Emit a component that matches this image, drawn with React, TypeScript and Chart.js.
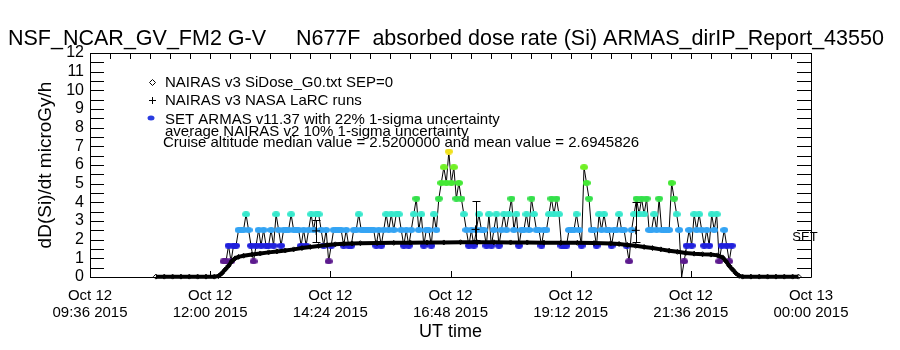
import React, { useEffect, useRef } from "react";
import { Chart, registerables } from "chart.js";

Chart.register(...registerables);

const FONT = '"Liberation Sans", Arial, sans-serif';

const titleText = "NSF_NCAR_GV_FM2 G-V     N677F  absorbed dose rate (Si) ARMAS_dirIP_Report_43550";
const yAxisTitle = "dD(Si)/dt microGy/h";
const xAxisTitle = "UT time";
const legendLabels = [
  "NAIRAS v3 SiDose_G0.txt SEP=0",
  "NAIRAS v3 NASA LaRC runs",
  "SET ARMAS v11.37 with 22% 1-sigma uncertainty",
];
const noteLines = [
  "average NAIRAS v2 10% 1-sigma uncertainty",
  "Cruise altitude median value = 2.5200000 and mean value = 2.6945826",
];
const sideLabel = "SET";
const sideLabelValue = 2.1;

// x axis in minutes since Oct 12 00:00 UT
const xMinMinutes = 576;
const xMaxMinutes = 1440;
const xTickMinutes = [576, 720, 864, 1008, 1152, 1296, 1440];
const xTickLabels = [
  ["Oct 12", "09:36 2015"],
  ["Oct 12", "12:00 2015"],
  ["Oct 12", "14:24 2015"],
  ["Oct 12", "16:48 2015"],
  ["Oct 12", "19:12 2015"],
  ["Oct 12", "21:36 2015"],
  ["Oct 13", "00:00 2015"],
];
const yMin = 0;
const yMax = 12;

// NAIRAS v3 SiDose_G0 model (microGy/h)
const nairasTimes = [
  655, 665, 675, 685, 695, 705, 715, 725, 730, 734, 738, 742, 746, 750, 754,
  760, 770, 780, 790, 800, 810, 820, 830, 840, 850, 860, 870, 880, 890, 900,
  920, 940, 960, 980, 1000, 1020, 1040, 1060, 1080, 1100, 1120, 1140, 1160, 1180, 1200,
  1210, 1220, 1230, 1240, 1250, 1260, 1270, 1280, 1290, 1300, 1310, 1320,
  1328, 1334, 1338, 1342, 1346, 1350, 1354, 1358,
  1368, 1378, 1388, 1398, 1408, 1418, 1425,
];
const nairasValues = [
  0.02, 0.02, 0.02, 0.02, 0.02, 0.02, 0.02, 0.02, 0.05, 0.2, 0.4, 0.6, 0.85, 1.0, 1.08,
  1.14, 1.2, 1.26, 1.32, 1.37, 1.42, 1.48, 1.55, 1.61, 1.66, 1.71, 1.75, 1.78, 1.8, 1.81,
  1.82, 1.83, 1.84, 1.85, 1.85, 1.86, 1.86, 1.86, 1.85, 1.85, 1.84, 1.83, 1.83, 1.82, 1.8,
  1.77, 1.72, 1.67, 1.61, 1.55, 1.48, 1.41, 1.35, 1.29, 1.25, 1.22, 1.2,
  1.16, 1.05, 0.85, 0.6, 0.4, 0.2, 0.06, 0.02,
  0.02, 0.02, 0.02, 0.02, 0.02, 0.02, 0.02,
];

// NAIRAS v3 NASA LaRC runs with uncertainty bars
const larcTimes = [847, 1038, 1230];
const larcValues = [2.47, 2.55, 2.5];
const larcLow = [1.89, 1.97, 1.9];
const larcHigh = [3.04, 4.05, 4.02];

// SET ARMAS measurements: dose counts per 3-minute record, quantum 0.84 microGy/h
const armasStartMinute = 736;
const armasStepMinutes = 3;
const armasDoseQuantum = 0.84;
const armasCounts = [
  1, 1, 2, 1, 2, 2, 3, 3, 3, 4,
  3, 2, 1, 2, 3, 2, 3, 2, 2, 3,
  2, 4, 3, 2, 3, 3, 3, 4, 3, 3,
  3, 2, 3, 2, 3, 4, 3, 4, 4, 3,
  2, 3, 1, 2, 3, 3, 3, 3, 2, 3,
  2, 2, 3, 3, 4, 3, 3, 3, 3, 3,
  3, 2, 3, 2, 3, 4, 3, 4, 3, 4,
  4, 3, 2, 3, 2, 3, 4, 5, 3, 4,
  2, 3, 3, 2, 4, 3, 5, 6, 7, 6,
  8, 6, 7, 5, 6, 5, 4, 3, 2, 3,
  2, 3, 4, 3, 3, 2, 4, 2, 3, 4,
  2, 3, 4, 3, 4, 5, 3, 4, 2, 3,
  3, 4, 3, 5, 4, 3, 3, 2, 3, 3,
  4, 5, 4, 5, 4, 2, 2, 2, 3, 3,
  3, 4, 3, 2, 7, 6, 5, 3, 3, 2,
  4, 3, 4, 3, 3, 2, 3, 3, 4, 3,
  3, 2, 1, 3, 4, 5, 4, 5, 4, 5,
  3, 3, 4, 3, 5, 3, 3, 3, 3, 6,
  5, 4, 3, 0, 1, 2, 3, 2, 4, 3,
  4, 3, 2, 3, 2, 4, 3, 4, 1, 2,
  3, 2, 1, 2,
];
const armasCountColors = [
  "rgba(0,0,0,0)",
  "#5c1a8e",
  "#2020dc",
  "#34a4f4",
  "#36e8cc",
  "#34e04a",
  "#44e834",
  "#70f024",
  "#f0e01c",
];

function makeDot(color: string, w: number, h: number): HTMLCanvasElement {
  const c = document.createElement("canvas");
  c.width = w;
  c.height = h;
  const g = c.getContext("2d")!;
  g.fillStyle = color;
  g.beginPath();
  g.ellipse(w / 2, h / 2, w / 2, h / 2, 0, 0, Math.PI * 2);
  g.fill();
  return c;
}

const idlPlugin = {
  id: "idlDecor",
  beforeDatasetsDraw(chart: any) {
    const { ctx, chartArea, scales } = chart;
    const { left, right, top, bottom } = chartArea;
    const x = scales.x;
    const y = scales.y;
    ctx.save();
    ctx.strokeStyle = "#000";
    ctx.lineWidth = 1;
    ctx.beginPath();
    ctx.rect(Math.round(left) + 0.5, Math.round(top) + 0.5, Math.round(right - left), Math.round(bottom - top));
    for (let v = yMin; v <= yMax; v += 0.5) {
      const py = Math.round(y.getPixelForValue(v)) + 0.5;
      ctx.moveTo(left, py);
      ctx.lineTo(left + 14, py);
      ctx.moveTo(right, py);
      ctx.lineTo(right - 14, py);
    }
    for (let m = xMinMinutes; m <= xMaxMinutes; m += 24) {
      const px = Math.round(x.getPixelForValue(m)) + 0.5;
      ctx.moveTo(px, top);
      ctx.lineTo(px, top + 6);
    }
    for (const m of xTickMinutes) {
      const px = Math.round(x.getPixelForValue(m)) + 0.5;
      ctx.moveTo(px, bottom);
      ctx.lineTo(px, bottom - 6);
    }
    ctx.stroke();
    ctx.restore();
  },
  afterDatasetsDraw(chart: any) {
    const { ctx, scales } = chart;
    const x = scales.x;
    const y = scales.y;
    ctx.save();
    ctx.strokeStyle = "#000";
    ctx.lineWidth = 1;
    ctx.beginPath();
    for (let i = 0; i < larcTimes.length; i++) {
      const px = Math.round(x.getPixelForValue(larcTimes[i])) + 0.5;
      const yl = Math.round(y.getPixelForValue(larcLow[i])) + 0.5;
      const yh = Math.round(y.getPixelForValue(larcHigh[i])) + 0.5;
      ctx.moveTo(px, yl);
      ctx.lineTo(px, yh);
      ctx.moveTo(px - 4, yl);
      ctx.lineTo(px + 4, yl);
      ctx.moveTo(px - 4, yh);
      ctx.lineTo(px + 4, yh);
    }
    ctx.stroke();
    ctx.restore();
  },
  afterDraw(chart: any) {
    const { ctx, chartArea, scales } = chart;
    const y = scales.y;
    ctx.save();
    ctx.fillStyle = "#000";
    ctx.textBaseline = "alphabetic";
    ctx.textAlign = "left";
    ctx.font = `21.5px ${FONT}`;
    ctx.fillText(titleText, 8, 45);

    ctx.font = `15px ${FONT}`;
    const baselines = [87, 105, 124, 136, 147];
    ctx.fillText(legendLabels[0], 165, baselines[0]);
    ctx.fillText(legendLabels[1], 165, baselines[1]);
    ctx.fillText(legendLabels[2], 165, baselines[2]);
    ctx.fillText(noteLines[0], 165, baselines[3]);
    ctx.fillText(noteLines[1], 163, baselines[4]);

    ctx.strokeStyle = "#000";
    ctx.lineWidth = 1;
    ctx.beginPath();
    const dx = 152.5, dy = 82.5;
    ctx.moveTo(dx, dy - 3);
    ctx.lineTo(dx + 3, dy);
    ctx.lineTo(dx, dy + 3);
    ctx.lineTo(dx - 3, dy);
    ctx.closePath();
    ctx.moveTo(152.5, 97);
    ctx.lineTo(152.5, 104);
    ctx.moveTo(149, 100.5);
    ctx.lineTo(156, 100.5);
    ctx.stroke();
    ctx.fillStyle = "#2a3ce0";
    ctx.beginPath();
    ctx.ellipse(151, 118, 3.5, 2.5, 0, 0, Math.PI * 2);
    ctx.fill();

    ctx.fillStyle = "#000";
    ctx.font = `13px ${FONT}`;
    ctx.textAlign = "center";
    ctx.textBaseline = "middle";
    ctx.fillText(sideLabel, chartArea.right - 6, y.getPixelForValue(sideLabelValue));
    ctx.restore();
  },
};

export default function App() {
  const canvasRef = useRef<HTMLCanvasElement | null>(null);

  useEffect(() => {
    const canvas = canvasRef.current;
    if (!canvas) return;
    const dots = armasCountColors.map((c) => makeDot(c, 8, 6));

    const nairasData = nairasTimes.map((t, i) => ({ x: t, y: nairasValues[i] }));
    const larcData = larcTimes.map((t, i) => ({ x: t, y: larcValues[i] }));
    const armasData = armasCounts.map((c, i) => ({
      x: armasStartMinute + i * armasStepMinutes,
      y: c * armasDoseQuantum,
    }));

    const chart = new Chart(canvas, {
      type: "line",
      data: {
        datasets: [
          {
            label: legendLabels[1],
            data: larcData,
            showLine: false,
            pointStyle: "cross",
            pointRadius: 4,
            pointBorderColor: "#000",
            pointBorderWidth: 1,
            borderColor: "#000",
            order: 0,
            clip: false,
          } as any,
          {
            label: legendLabels[0],
            data: nairasData,
            borderColor: "#000",
            borderWidth: 4,
            pointStyle: "rectRot",
            pointRadius: 2.5,
            pointBorderWidth: 1,
            pointBorderColor: "#000",
            pointBackgroundColor: "rgba(0,0,0,0)",
            order: 1,
            clip: false,
          } as any,
          {
            label: legendLabels[2],
            data: armasData,
            borderColor: "#000",
            borderWidth: 1,
            pointStyle: (ctx: any) => dots[armasCounts[ctx.dataIndex]] || "circle",
            pointRadius: 3,
            order: 2,
            clip: false,
          } as any,
        ],
      },
      options: {
        responsive: false,
        animation: false,
        events: [],
        layout: { padding: { top: 53, right: 89, left: 0, bottom: 0 } },
        elements: { line: { tension: 0 } },
        plugins: {
          legend: { display: false },
          title: { display: false },
          tooltip: { enabled: false },
        },
        scales: {
          x: {
            type: "linear",
            min: xMinMinutes,
            max: xMaxMinutes,
            afterFit: (s: any) => {
              s.height = 73;
            },
            afterBuildTicks: (s: any) => {
              s.ticks = xTickMinutes.map((v) => ({ value: v }));
            },
            grid: { display: false, drawTicks: false },
            border: { display: false },
            ticks: {
              autoSkip: false,
              maxRotation: 0,
              minRotation: 0,
              padding: 10,
              color: "#000",
              font: { family: FONT, size: 15, lineHeight: "17px" },
              callback: (_v: any, i: number) => xTickLabels[i],
            },
            title: {
              display: true,
              text: xAxisTitle,
              color: "#000",
              font: { family: FONT, size: 18, lineHeight: "20px" },
              padding: { top: 0, bottom: 8 },
            },
          },
          y: {
            min: yMin,
            max: yMax,
            afterFit: (s: any) => {
              s.width = 90;
            },
            grid: { display: false, drawTicks: false },
            border: { display: false },
            ticks: {
              stepSize: 1,
              autoSkip: false,
              padding: 6,
              color: "#000",
              font: { family: FONT, size: 16 },
            },
            title: {
              display: true,
              text: yAxisTitle,
              color: "#000",
              font: { family: FONT, size: 19, lineHeight: "22px" },
              padding: { top: 35, bottom: 0 },
            },
          },
        },
      } as any,
      plugins: [idlPlugin],
    });

    return () => chart.destroy();
  }, []);

  return (
    <div style={{ position: "fixed", left: 0, top: 0, width: 900, height: 350, background: "#fff" }}>
      <canvas ref={canvasRef} width={900} height={350} style={{ display: "block", width: 900, height: 350 }} />
    </div>
  );
}
